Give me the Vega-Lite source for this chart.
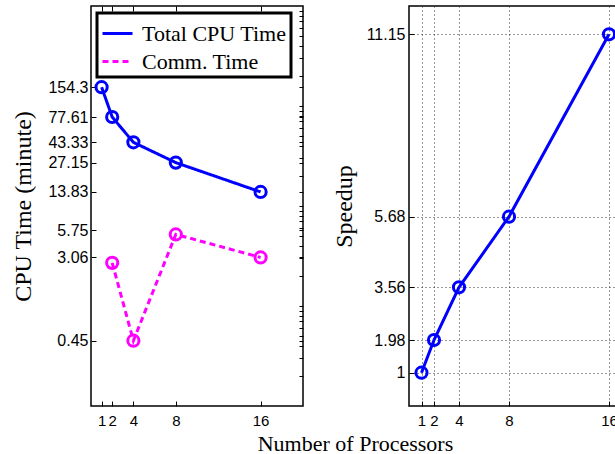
{
  "$schema": "https://vega.github.io/schema/vega-lite/v6.json",
  "background": "white",
  "padding": {"left": 11, "top": 4, "right": 0, "bottom": 0},
  "bounds": "flush",
  "spacing": 106,
  "config": {
    "view": {"stroke": "black", "strokeWidth": 1.5},
    "axis": {
      "domain": false,
      "labelFont": "Liberation Sans",
      "labelFontSize": 16,
      "labelColor": "black",
      "tickColor": "black",
      "tickSize": -5,
      "tickWidth": 1,
      "titleFont": "Liberation Serif",
      "titleFontWeight": "normal",
      "titleColor": "black",
      "titleFontSize": 24,
      "grid": false
    },
    "legend": {
      "strokeColor": "black",
      "strokeWidth": 3,
      "fillColor": "white",
      "padding": 4,
      "labelFont": "Liberation Serif",
      "labelFontSize": 22,
      "labelColor": "black",
      "labelOffset": 8,
      "rowPadding": 0,
      "symbolType": "stroke",
      "symbolSize": 900,
      "symbolStrokeWidth": 3
    }
  },
  "datasets": {
    "cpu": [
      {"procs": 1, "time": 154.3, "series": "Total CPU Time"},
      {"procs": 2, "time": 77.61, "series": "Total CPU Time"},
      {"procs": 4, "time": 43.33, "series": "Total CPU Time"},
      {"procs": 8, "time": 27.15, "series": "Total CPU Time"},
      {"procs": 16, "time": 13.83, "series": "Total CPU Time"},
      {"procs": 2, "time": 2.7, "series": "Comm. Time"},
      {"procs": 4, "time": 0.45, "series": "Comm. Time"},
      {"procs": 8, "time": 5.2, "series": "Comm. Time"},
      {"procs": 16, "time": 3.06, "series": "Comm. Time"}
    ],
    "speed": [
      {"procs": 1, "speedup": 1},
      {"procs": 2, "speedup": 1.98},
      {"procs": 4, "speedup": 3.56},
      {"procs": 8, "speedup": 5.68},
      {"procs": 16, "speedup": 11.15}
    ]
  },
  "hconcat": [
    {
      "width": 212,
      "height": 400,
      "data": {"name": "cpu"},
      "layer": [
        {
          "mark": {"type": "line", "strokeWidth": 3},
          "encoding": {
            "x": {
              "field": "procs", "type": "quantitative",
              "scale": {"domain": [0, 20], "nice": false, "zero": false},
              "axis": {"values": [1, 2, 4, 8, 16], "labelPadding": 12, "labelFontSize": 15, "title": "Number of Processors",
                       "titleFontSize": 22, "titleX": 264, "titleY": 44, "titleBaseline": "alphabetic", "titleAlign": "center"}
            },
            "y": {
              "field": "time", "type": "quantitative",
              "scale": {"type": "log", "domain": [0.1, 1000], "nice": false},
              "axis": {"values": [0.45, 3.06, 5.75, 13.83, 27.15, 43.33, 77.61, 154.3], "labelPadding": 8, "format": ".4~g",
                       "title": "CPU Time (minute)", "titlePadding": 12}
            },
            "color": {
              "field": "series", "type": "nominal",
              "scale": {"domain": ["Total CPU Time", "Comm. Time"], "range": ["#0000ff", "#ff00ff"]},
              "legend": {"orient": "none", "legendX": 6, "legendY": 7, "title": null}
            },
            "strokeDash": {
              "field": "series", "type": "nominal",
              "scale": {"domain": ["Total CPU Time", "Comm. Time"], "range": [[1, 0], [6, 4]]},
              "legend": {"orient": "none", "legendX": 6, "legendY": 7, "title": null}
            }
          }
        },
        {
          "mark": {"type": "point", "shape": "circle", "filled": false, "size": 125, "strokeWidth": 3, "opacity": 1},
          "encoding": {
            "x": {
              "field": "procs", "type": "quantitative",
              "axis": {"orient": "top", "values": [1, 2, 4, 8, 16], "labels": false, "title": null}
            },
            "y": {
              "field": "time", "type": "quantitative",
              "axis": {"orient": "right", "labels": false, "title": null, "tickSize": -4,
                       "values": [0.2, 0.3, 0.4, 0.45, 0.5, 0.6, 0.7, 0.8, 0.9, 1, 2, 3, 3.06, 4, 5, 5.75, 6, 7, 8, 9, 10, 13.83, 20, 27.15, 30, 40, 43.33, 50, 60, 70, 77.61, 80, 90, 100, 154.3, 200, 300, 400, 500, 600, 700, 800, 900]}
            },
            "color": {"field": "series", "type": "nominal", "legend": null}
          }
        }
      ],
      "resolve": {"axis": {"x": "independent", "y": "independent"}}
    },
    {
      "width": 250,
      "height": 400,
      "data": {"name": "speed"},
      "encoding": {
        "x": {
          "field": "procs", "type": "quantitative",
          "scale": {"domain": [0, 20], "nice": false, "zero": false},
          "axis": {"values": [1, 2, 4, 8, 16], "labelPadding": 12, "labelFontSize": 15, "title": null,
                   "grid": true, "gridColor": "#333", "gridDash": [1, 3], "gridWidth": 1}
        },
        "y": {
          "field": "speedup", "type": "quantitative",
          "scale": {"domain": [0, 12], "nice": false},
          "axis": {"values": [1, 1.98, 3.56, 5.68, 11.15], "format": ".4~g", "labelPadding": 9, "title": "Speedup", "titlePadding": 10,
                   "grid": true, "gridColor": "#333", "gridDash": [1, 3], "gridWidth": 1}
        }
      },
      "layer": [
        {"mark": {"type": "line", "strokeWidth": 3, "color": "#0000ff"}},
        {"mark": {"type": "point", "shape": "circle", "filled": false, "size": 125, "strokeWidth": 3, "color": "#0000ff", "opacity": 1}}
      ]
    }
  ]
}
